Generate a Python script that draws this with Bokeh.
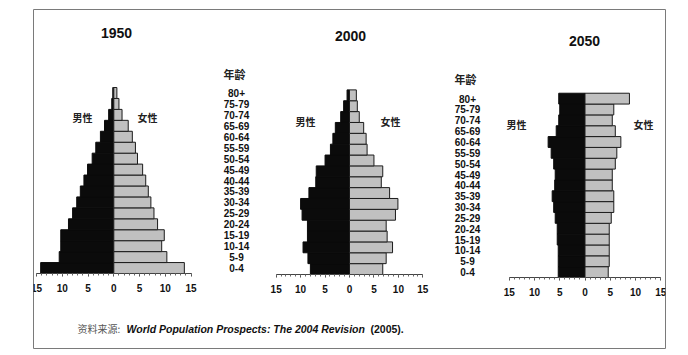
from bokeh.plotting import figure
from bokeh.models import Range1d, LinearAxis, FixedTicker, ColumnDataSource
from bokeh.embed import file_html
from bokeh.resources import INLINE
from bokeh.core.properties import value

# ---------------- data ----------------
ages = ["0-4", "5-9", "10-14", "15-19", "20-24", "25-29", "30-34", "35-39",
        "40-44", "45-49", "50-54", "55-59", "60-64", "65-69", "70-74", "75-79", "80+"]
years = ["1950", "2000", "2050"]

male_1950 = [14.2, 10.6, 10.3, 10.3, 8.8, 8.0, 7.2, 6.5, 5.8, 5.1, 4.2, 3.5, 2.6, 1.8, 1.0, 0.4, 0.2]
female_1950 = [13.7, 10.3, 9.3, 9.8, 8.5, 7.8, 7.2, 6.7, 6.2, 5.6, 4.6, 4.2, 3.6, 2.8, 1.6, 1.0, 0.6]

male_2000 = [8.0, 8.5, 9.5, 8.6, 8.6, 9.7, 10.0, 8.3, 6.9, 6.8, 5.0, 3.9, 3.4, 2.9, 1.8, 1.2, 0.5]
female_2000 = [6.8, 7.5, 8.8, 7.7, 7.5, 9.4, 9.9, 8.2, 6.5, 6.8, 5.0, 3.6, 3.4, 2.9, 2.0, 1.6, 1.4]

male_2050 = [5.3, 5.3, 5.3, 5.5, 5.5, 5.9, 6.2, 6.5, 6.0, 5.9, 6.2, 6.7, 7.3, 5.7, 5.2, 5.0, 5.2]
female_2050 = [4.6, 4.8, 4.8, 4.8, 4.8, 5.2, 5.7, 5.7, 5.4, 5.4, 6.0, 6.3, 7.1, 6.0, 5.4, 5.7, 8.8]

x_ticks = [-15, -10, -5, 0, 5, 10, 15]
x_tick_labels = ["15", "10", "5", "0", "5", "10", "15"]

male_label = "男性"
female_label = "女性"
age_title = "年龄"
source_prefix = "资料来源:"
source_title = "World Population Prospects: The 2004 Revision"
source_suffix = "(2005)."

# ---------------- layout (page pixels) ----------------
FX0, FX1, FY0, FY1 = 33, 665, 9, 348
LAT = value("Liberation Sans")
CJK = value("Noto Sans CJK SC")

panels = [
    dict(male=male_1950, female=female_1950, cx=113.3, ux=5.15, y0=273.0, uy=10.94,
         tx=116, ty=32, sy=117, mx=82, fx=147),
    dict(male=male_2000, female=female_2000, cx=349.0, ux=4.89, y0=274.0, uy=10.86,
         tx=350, ty=35, sy=121, mx=305, fx=390),
    dict(male=male_2050, female=female_2050, cx=584.5, ux=5.05, y0=277.0, uy=10.84,
         tx=584, ty=40, sy=123.5, mx=516, fx=643),
]

p = figure(width=FX1 + 1, height=FY1 + 1,
           x_range=Range1d(FX0, FX1), y_range=Range1d(FY1, FY0),
           output_backend="svg", toolbar_location=None,
           x_axis_location=None, y_axis_location=None,
           min_border_left=FX0, min_border_right=1,
           min_border_top=FY0, min_border_bottom=1)
p.grid.visible = False
p.outline_line_color = "#7a7a7a"
p.outline_line_width = 1
p.background_fill_color = "white"
p.border_fill_color = "white"

xranges = {}
yranges = {}
for k, pn in enumerate(panels):
    xranges[f"x{k}"] = Range1d(-(pn["cx"] - FX0) / pn["ux"], (FX1 - pn["cx"]) / pn["ux"])
    yranges[f"y{k}"] = Range1d(-(FY1 - pn["y0"]) / pn["uy"], (pn["y0"] - FY0) / pn["uy"])
p.extra_x_ranges = xranges
p.extra_y_ranges = yranges

sources = []
for k, pn in enumerate(panels):
    xr, yr = f"x{k}", f"y{k}"
    src = ColumnDataSource(dict(
        age=ages,
        pos=[i + 0.5 for i in range(len(ages))],
        male=[-v for v in pn["male"]],
        female=pn["female"],
    ))
    sources.append(src)
    p.hbar(y="pos", left="male", right=0, height=1, source=src,
           x_range_name=xr, y_range_name=yr,
           fill_color="#0b0b0b", line_color="#0b0b0b", line_width=1)
    p.hbar(y="pos", left=0, right="female", height=1, source=src,
           x_range_name=xr, y_range_name=yr,
           fill_color="#c0c0c0", line_color="#1c1c1c", line_width=1)

    ax = LinearAxis(x_range_name=xr, y_range_name=yr, fixed_location=0,
                    bounds=(-15, 15),
                    ticker=FixedTicker(ticks=x_ticks, minor_ticks=list(range(-15, 16))),
                    major_label_overrides={t: s for t, s in zip(x_ticks, x_tick_labels)})
    ax.axis_line_color = "#444444"
    ax.major_tick_line_color = "#444444"
    ax.minor_tick_line_color = "#666666"
    ax.major_tick_in = 0
    ax.major_tick_out = 3
    ax.minor_tick_in = 0
    ax.minor_tick_out = 2
    ax.major_label_standoff = 7
    ax.major_label_text_font = "Liberation Sans"
    ax.major_label_text_font_style = "bold"
    ax.major_label_text_font_size = "10px"
    ax.major_label_text_color = "#111111"
    p.add_layout(ax, "below")

    # year title
    p.text(x=[pn["tx"]], y=[pn["ty"]], text=[years[k]], text_font=LAT,
           text_font_style="bold", text_font_size="14px", text_color="#111111",
           text_align="center", text_baseline="middle")
    # sex labels
    p.text(x=[pn["mx"], pn["fx"]], y=[pn["sy"], pn["sy"]], text=[male_label, female_label],
           text_font=CJK, text_font_style="bold", text_font_size="10px",
           text_color="#222222", text_align="center", text_baseline="middle")

# age label columns (aligned to panel 1 and panel 3 rows)
for col_x, title_x, title_y, k in [(236, 234, 73, 0), (467, 465, 78, 2)]:
    p.text(x=col_x, y="pos", text="age", source=sources[k], y_range_name=f"y{k}",
           text_font=LAT, text_font_style="bold", text_font_size="10px",
           text_color="#111111", text_align="center", text_baseline="middle")
    p.text(x=[title_x], y=[title_y], text=[age_title], text_font=CJK,
           text_font_style="bold", text_font_size="11px", text_color="#222222",
           text_align="center", text_baseline="middle")

# source footer
p.text(x=[77], y=[328], text=[source_prefix], text_font=CJK, text_font_size="10px",
       text_color="#555555", text_align="left", text_baseline="middle")
p.text(x=[126], y=[328], text=[source_title], text_font=LAT, text_font_style="bold italic",
       text_font_size="10.5px", text_color="#111111", text_align="left", text_baseline="middle")
p.text(x=[370], y=[328], text=[source_suffix], text_font=LAT, text_font_style="bold",
       text_font_size="10.5px", text_color="#111111", text_align="left", text_baseline="middle")

open("out.html", "w").write(file_html(p, INLINE))
